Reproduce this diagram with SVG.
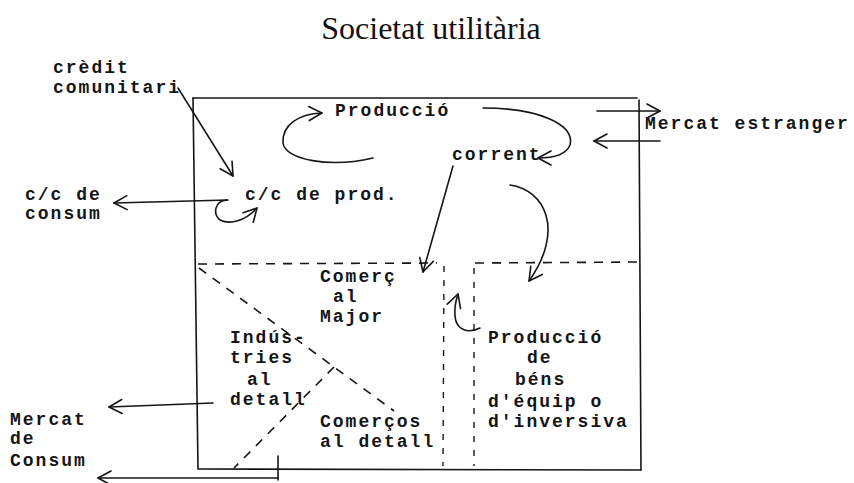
<svg xmlns="http://www.w3.org/2000/svg" width="854" height="483" viewBox="0 0 854 483">
<style>
.t{font-family:"Liberation Mono","DejaVu Sans Mono",monospace;font-size:18px;font-weight:bold;letter-spacing:2px;fill:#151515}
.ln{fill:none;stroke:#151515;stroke-width:1.6;stroke-linecap:round;stroke-linejoin:round}
.dh{fill:none;stroke:#151515;stroke-width:1.6;stroke-dasharray:9 8}
.dv{fill:none;stroke:#151515;stroke-width:1.4;stroke-dasharray:6 8}
.title{font-family:"Liberation Serif","Times New Roman",serif;font-size:32px;fill:#111}
</style>
<defs>
<marker id="arr" markerUnits="userSpaceOnUse" markerWidth="20" markerHeight="20" viewBox="-15 -10 20 20" refX="0" refY="0" orient="auto" overflow="visible">
<path d="M-13,-7 L0,0 L-13,7" fill="none" stroke="#151515" stroke-width="1.6" stroke-linecap="round" stroke-linejoin="round"/>
</marker>
</defs>
<rect width="854" height="483" fill="#fff"/>
<text class="title" x="431" y="39" text-anchor="middle">Societat utilitària</text>

<g id="frame">
<path class="ln" d="M193,98 L637,98"/>
<path class="ln" d="M639,100 L641,470"/>
<path class="ln" d="M193,98 L198,469 L641,470"/>
<path class="dh" d="M198,264 L437,263"/>
<path class="dh" d="M475,263 L640,262"/>
<path class="dv" d="M444,266 L443,466"/>
<path class="dv" d="M474,268 L474,466"/>
<path class="dh" d="M199,268 L394,411"/>
<path class="dh" d="M334,367 L234,468"/>
</g>

<g id="connectors">
<path class="ln" d="M178,88 L233,176" marker-end="url(#arr)"/>
<path class="ln" d="M228,200 L114,203" marker-end="url(#arr)"/>
<path class="ln" d="M227,200 C214,201 213,214 220,220 C230,225 245,221 257,208" marker-end="url(#arr)"/>
<path class="ln" d="M373,158 C330,168 285,160 283,143 C282,125 298,114 322,113" marker-end="url(#arr)"/>
<path class="ln" d="M483,108 C540,108 575,125 570,145 C566,155 553,158 538,158" marker-end="url(#arr)"/>
<path class="ln" d="M453,166 L423,272" marker-end="url(#arr)"/>
<path class="ln" d="M510,185 C545,190 565,230 529,281" marker-end="url(#arr)"/>
<path class="ln" d="M597,111 L660,111" marker-end="url(#arr)"/>
<path class="ln" d="M660,141 L594,141" marker-end="url(#arr)"/>
<path class="ln" d="M480,328 C468,334 456,330 455,316 C454,306 456,300 458,294" marker-end="url(#arr)"/>
<path class="ln" d="M213,403 L109,407" marker-end="url(#arr)"/>
<path class="ln" d="M278,456 L278,480"/>
<path class="ln" d="M278,478 L98,478" marker-end="url(#arr)"/>
</g>

<g id="credit">
<text class="t" x="53" y="73">crèdit</text>
<text class="t" x="53" y="93">comunitari</text>
</g>
<g id="cc-consum">
<text class="t" x="25" y="200">c/c de</text>
<text class="t" x="25" y="219">consum</text>
</g>
<g id="cc-prod"><text class="t" x="245" y="200">c/c de prod.</text></g>
<g id="produccio"><text class="t" x="335" y="116">Producció</text></g>
<g id="corrent"><text class="t" x="452" y="160">corrent</text></g>
<g id="mercat-estranger"><text class="t" x="645" y="129">Mercat estranger</text></g>
<g id="comerc-major">
<text class="t" x="320" y="282">Comerç</text>
<text class="t" x="333" y="302">al</text>
<text class="t" x="320" y="322">Major</text>
</g>
<g id="industries">
<text class="t" x="230" y="343">Indús-</text>
<text class="t" x="230" y="363">tries</text>
<text class="t" x="247" y="385">al</text>
<text class="t" x="230" y="405">detall</text>
</g>
<g id="comercos">
<text class="t" x="320" y="427">Comerços</text>
<text class="t" x="320" y="447">al detall</text>
</g>
<g id="bens">
<text class="t" x="488" y="343">Producció</text>
<text class="t" x="527" y="363">de</text>
<text class="t" x="515" y="385">béns</text>
<text class="t" x="488" y="407">d'équip o</text>
<text class="t" x="488" y="427">d'inversiva</text>
</g>
<g id="mercat-consum">
<text class="t" x="10" y="425">Mercat</text>
<text class="t" x="10" y="444">de</text>
<text class="t" x="10" y="466">Consum</text>
</g>
</svg>
